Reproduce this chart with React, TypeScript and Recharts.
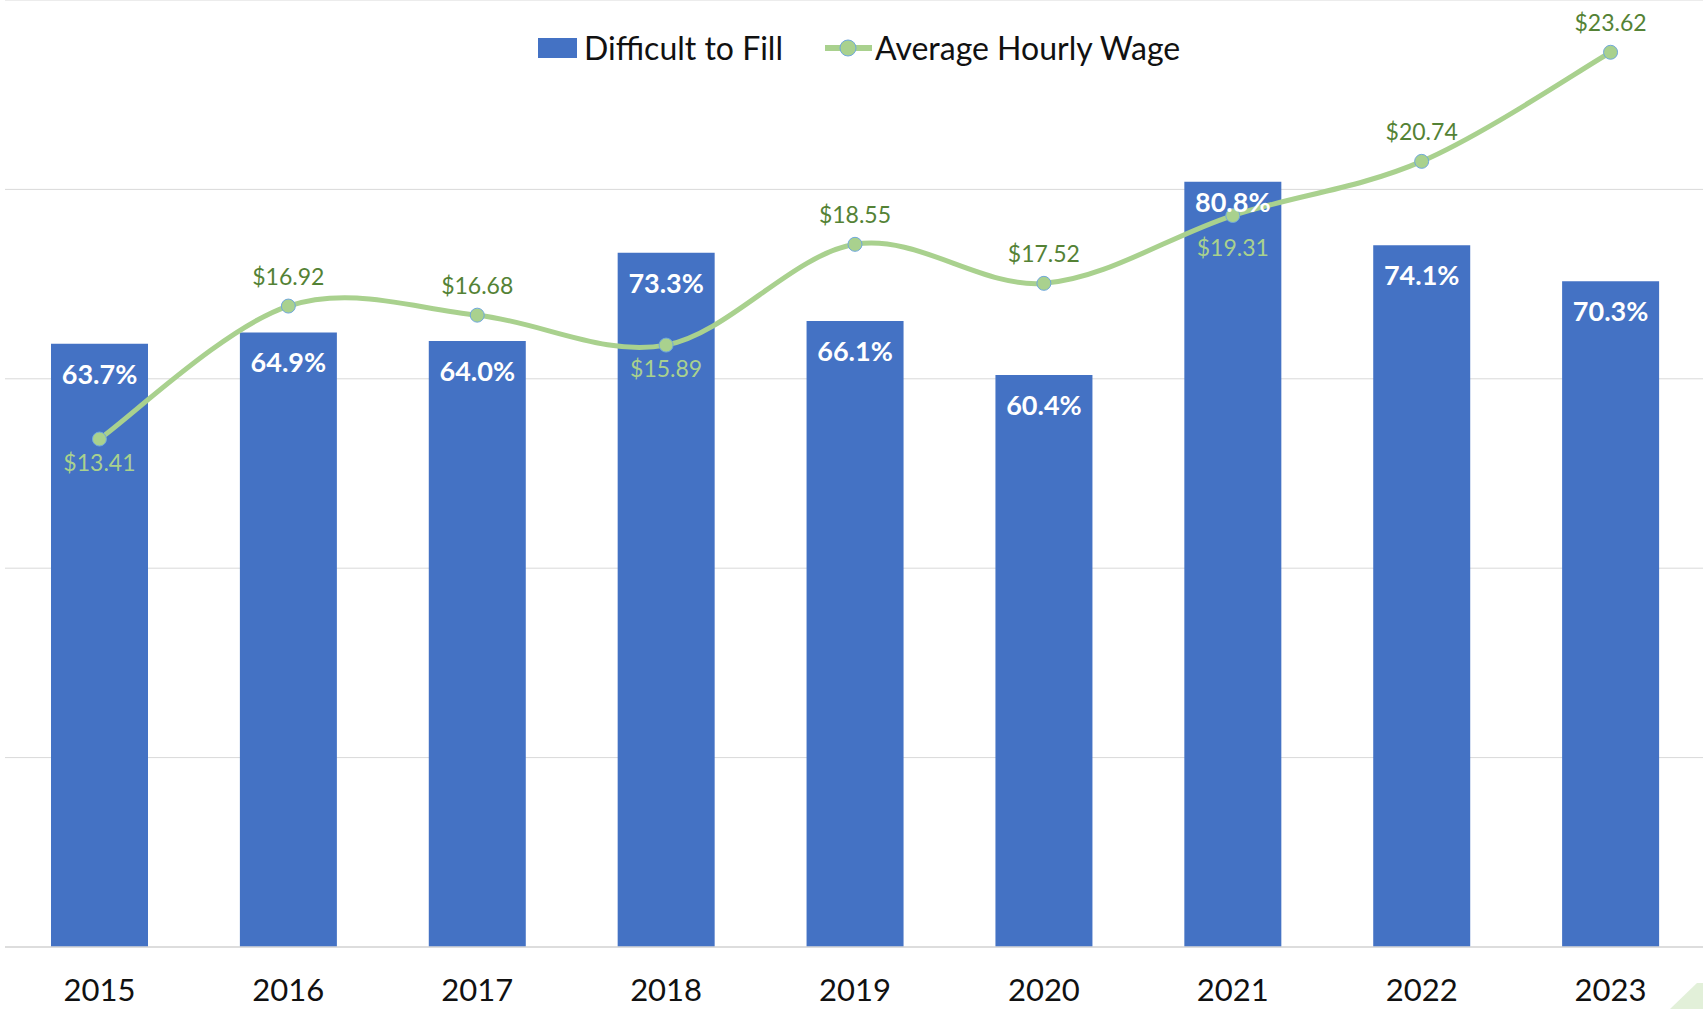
import React from 'react';
import {
  ComposedChart, Bar, Line, XAxis, YAxis, CartesianGrid, Legend, LabelList
} from 'recharts';

// Survey results by year
const years = ['2015', '2016', '2017', '2018', '2019', '2020', '2021', '2022', '2023'];
const difficultToFill = [63.7, 64.9, 64.0, 73.3, 66.1, 60.4, 80.8, 74.1, 70.3];
const avgHourlyWage = [13.41, 16.92, 16.68, 15.89, 18.55, 17.52, 19.31, 20.74, 23.62];
// wage labels that sit under the point (inside the bar)
const wageLabelBelow = ['2015', '2018', '2021'];
const pctTicks = [0, 20, 40, 60, 80];

const data = years.map((year, i) => ({
  year,
  pct: difficultToFill[i],
  wage: avgHourlyWage[i],
}));

const BLUE = '#4472C4';
const GREEN = '#A9D18E';
const DARK_GREEN = '#548235';
const FONT = "Lato, 'Open Sans', sans-serif";

// Excel-style smoothed line (bezier through points, 1/6 tangent)
function excelSmooth(context: any) {
  let pts: number[][] = [];
  return {
    areaStart() {},
    areaEnd() {},
    lineStart() { pts = []; },
    point(x: number, y: number) { pts.push([+x, +y]); },
    lineEnd() {
      if (!pts.length) return;
      context.moveTo(pts[0][0], pts[0][1]);
      for (let i = 0; i < pts.length - 1; i++) {
        const p0 = pts[Math.max(i - 1, 0)];
        const p1 = pts[i];
        const p2 = pts[i + 1];
        const p3 = pts[Math.min(i + 2, pts.length - 1)];
        context.bezierCurveTo(
          p1[0] + (p2[0] - p0[0]) / 6, p1[1] + (p2[1] - p0[1]) / 6,
          p2[0] - (p3[0] - p1[0]) / 6, p2[1] - (p3[1] - p1[1]) / 6,
          p2[0], p2[1]
        );
      }
    },
  };
}

const renderBarLabel = (props: any) => {
  const { x, y, width, value, index } = props;
  const inset = years[index] === '2021' ? 10 : 20;
  return (
    <text
      x={Number(x) + Number(width) / 2}
      y={Number(y) + inset + 20}
      textAnchor="middle"
      fill="#fff"
      fontFamily={FONT}
      fontWeight={700}
      fontSize={27}
    >
      {Number(value).toFixed(1)}%
    </text>
  );
};

const renderWageLabel = (props: any) => {
  const { x, y, value, index } = props;
  const below = wageLabelBelow.includes(years[index]);
  const extra = years[index] === '2021' ? 8 : 0;
  return (
    <text
      x={Number(x)}
      y={below ? Number(y) + 32 + extra : Number(y) - 21}
      textAnchor="middle"
      fill={below ? GREEN : DARK_GREEN}
      fontFamily={FONT}
      fontSize={23}
    >
      ${Number(value).toFixed(2)}
    </text>
  );
};

const renderLegend = () => (
  <div style={{ position: 'relative', height: 90, fontFamily: FONT, fontSize: 32, color: '#111', whiteSpace: 'nowrap' }}>
    <div style={{ position: 'absolute', left: 538, top: 38, width: 39, height: 20, background: BLUE }} />
    <div style={{ position: 'absolute', left: 584, top: 30, lineHeight: '36px' }}>Difficult to Fill</div>
    <svg style={{ position: 'absolute', left: 822, top: 38 }} width={52} height={20}>
      <line x1={3} y1={10} x2={50} y2={10} stroke={GREEN} strokeWidth={6} />
      <circle cx={26} cy={10} r={8} fill={GREEN} stroke="#6FA8DC" strokeWidth={1} />
    </svg>
    <div style={{ position: 'absolute', left: 875, top: 30, lineHeight: '36px' }}>Average Hourly Wage</div>
  </div>
);

export default function App() {
  return (
    <div style={{ position: 'absolute', left: 0, top: 0, width: 1703, height: 1009, overflow: 'hidden', background: '#fff' }}>
      <ComposedChart width={1705} height={1009} data={data} margin={{ top: 0, right: 0, left: 5, bottom: 0 }}>
        <CartesianGrid vertical={false} stroke="#D9D9D9" yAxisId="left" />
        <XAxis
          dataKey="year"
          height={62}
          axisLine={{ stroke: '#D9D9D9', strokeWidth: 1.5 }}
          tickLine={false}
          tickSize={0}
          tickMargin={32}
          tick={{ fontFamily: FONT, fontSize: 31, fill: '#111' }}
        />
        <YAxis yAxisId="left" hide domain={[0, 100]} ticks={pctTicks} />
        <YAxis yAxisId="right" orientation="right" hide domain={[0, 25]} />
        <Legend
          verticalAlign="middle"
          layout="horizontal"
          wrapperStyle={{ top: 0, left: 0, width: 1703 }}
          content={renderLegend}
        />
        <Bar yAxisId="left" dataKey="pct" name="Difficult to Fill" fill={BLUE} barSize={97} isAnimationActive={false}>
          <LabelList dataKey="pct" content={renderBarLabel} />
        </Bar>
        <Line
          yAxisId="right"
          dataKey="wage"
          name="Average Hourly Wage"
          type={excelSmooth as any}
          stroke={GREEN}
          strokeWidth={5}
          dot={{ r: 7, fill: GREEN, stroke: '#6FA8DC', strokeWidth: 1 }}
          activeDot={false}
          isAnimationActive={false}
        >
          <LabelList dataKey="wage" content={renderWageLabel} />
        </Line>
      </ComposedChart>
      <svg style={{ position: 'absolute', left: 1660, top: 975 }} width={43} height={34}>
        <polygon points="10,34 37,8 43,8 43,34" fill="#E2F0D9" />
      </svg>
    </div>
  );
}
